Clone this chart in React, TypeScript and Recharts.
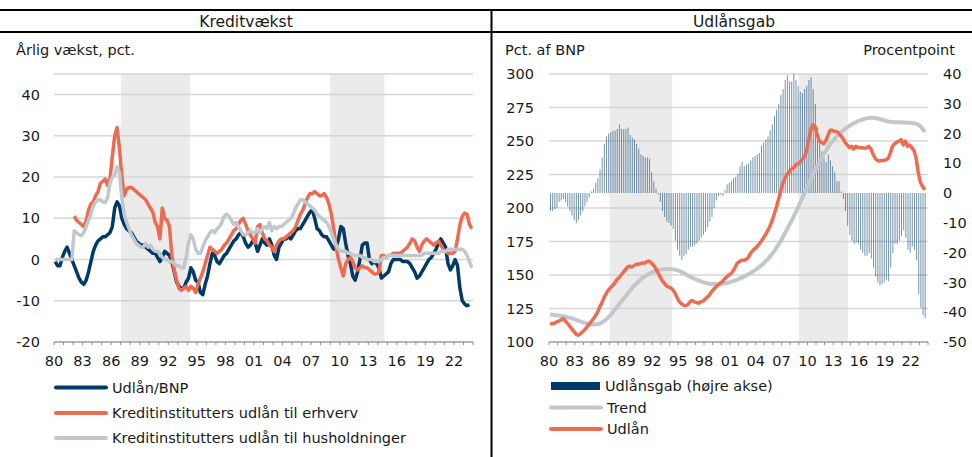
import React from 'react';
import {
  LineChart,
  ComposedChart,
  Line,
  Bar,
  XAxis,
  YAxis,
  CartesianGrid,
  ReferenceArea,
} from 'recharts';

const FONT = '"DejaVu Sans", Verdana, sans-serif';
const NAVY = '#003a66';
const ORANGE = '#ee6a50';
const GREY = '#c0c8cd';

// Kvartalsdata fra 1980K1 (én linje pr. år)
// Udlån/BNP, årlig vækst i pct. (til og med 2023K3)
const udlanBnp = [
  -0.5, -1.5, -1.5, 0.5,
  2, 3, 1.5, 0,
  -1.5, -3, -4.5, -5.5,
  -6, -5, -3, -0.5,
  2, 3.5, 4.5, 5,
  5.5, 5.5, 6, 6.5,
  8, 12.5, 14, 13,
  10, 8.5, 7.5, 7,
  6.5, 5.5, 4.5, 4,
  3.5, 3.5, 3, 2.5,
  2, 1.5, 1.5, 0.5,
  -0.5, 0.5, 2, 1.5,
  1, -0.5, -3, -5.5,
  -6.5, -7, -7, -5.5,
  -4.5, -2, -3, -5,
  -5.5, -8, -8.5, -6,
  -4, -1, 1.5, 1,
  -0.5, -1, 0, 1,
  1.5, 2.5, 3.5, 4.5,
  5, 6, 6.5, 5.5,
  4, 3, 3.5, 4.5,
  4, 2, 3.5, 5,
  4, 3.5, 5, 3.5,
  1, 0, 3, 4,
  5, 5, 5.5, 5,
  6, 7, 7.5, 7.5,
  8.5, 9.5, 10.5, 11.5,
  12, 10, 7.5, 7,
  6, 5.5, 5.5, 4.5,
  3.5, 2.5, 3, 5,
  8, 7.5, 4, 1,
  -1, -4, -5, -3,
  0, 3.5, 4, 4,
  0, -1, -0.5, -1,
  -2, -4.5, -4, -3.5,
  -3, -1, 0, 0,
  0, 0, -0.5, -0.5,
  -0.5, -1, -2, -3,
  -4.5, -4, -3, -2,
  -1, 0, 0.5, 1.5,
  2.5, 4, 5, 4,
  3, -1, -2.5, -1.5,
  0, -1.5, -7, -10,
  -10.8, -11.2, -11,
];

// Kreditinstitutters udlån til erhverv (fra 1982K1)
const udlanErhverv = [
  null, null, null, null,
  null, null, null, null,
  10.5, 9.5, 9, 8.5,
  8, 9.5, 12, 13.5,
  14, 15.5, 16.5, 18.5,
  19, 19.5, 18, 19.5,
  25, 30, 32, 27,
  20, 15.5, 17, 17.5,
  17.5, 17, 16.5, 16,
  15.5, 15, 14.5, 13.5,
  12.5, 11.5, 9, 8,
  5, 12.5, 10, 9.5,
  8, 1, -2.5, -5,
  -7, -7.5, -7, -6.5,
  -7.5, -6.5, -7, -8,
  -6, -4.5, -3, -1,
  1, 3, 2.5, 2,
  1.5, 2, 2.5, 3.5,
  4, 5, 6, 7,
  7.5, 8.5, 9.5, 10,
  8.5, 7, 6, 5,
  4, 8, 8.5, 6.5,
  5, 4.5, 3.5, 3,
  2, 3.5, 4.5, 5,
  5, 5.5, 6, 6.5,
  7, 8, 9.5, 11,
  12, 13.5, 15, 16,
  16, 16.5, 16, 15.5,
  15.5, 16, 15, 13.5,
  11, 7.5, 3, 0,
  -2, -4, -1, 0,
  0.5, -0.5, -2, -2.5,
  -2, -1.5, -2, -2,
  -2.5, -3, -3.5, -3.5,
  -3, 1, 1, 0.5,
  1, 1, 1.5, 1.5,
  1.5, 1.5, 2, 2.5,
  3, 4, 5, 4.5,
  3, 2, 3.5, 4.5,
  5, 4.5, 4, 3.5,
  4, 4.5, 3.5, 2.5,
  2, 1.5, 1.5, 1.5,
  2, 5, 8.5, 10.5,
  11.3, 11, 8.5, 7.5,
];

// Kreditinstitutters udlån til husholdninger
const udlanHush = [
  0, 0, 0, 0,
  0, 0, 0, 0,
  7, 6.5, 6, 5.8,
  6.5, 8, 9.5, 11,
  13, 14, 14.5, 14.5,
  14, 13.8, 15, 18.5,
  20, 20.5, 22.5, 21,
  15, 11, 9, 7.5,
  6, 5, 4, 3.5,
  3, 3, 4, 3,
  3.5, 2.5, 2, 2,
  1.5, 0.5, 0, 0,
  -0.5, -0.5, -1, -1.5,
  -1.5, -2, -2, 0.5,
  4, 6, 5, 2.5,
  1.5, 1.5, 3, 4.5,
  5.5, 6.5, 7, 6.5,
  7.5, 8, 9, 10.5,
  11, 10.5, 9.5, 8.5,
  9, 8, 7, 6,
  6, 6.5, 7, 6.5,
  6.5, 7.5, 6.5, 7.5,
  8, 7.5, 9, 7,
  8, 7.5, 8, 8,
  8.5, 9, 9.5, 10,
  11, 12.5, 13.5, 14.5,
  14.5, 14, 13.5, 13,
  12.5, 12, 11, 10.5,
  10, 9.5, 9, 8,
  6.5, 5, 3.5, 2.5,
  2, 2, 2, 1.5,
  1.5, 1, 1, 1,
  1, 0.5, 0.5, 0,
  0, 0, -0.5, -0.5,
  -0.5, 0, 0.5, 0.5,
  1, 1, 1, 1,
  1, 1, 1, 1,
  1, 1, 1, 1,
  1, 1, 1, 1.5,
  1.5, 1.5, 1.5, 1.5,
  1.5, 1.5, 2, 2,
  2, 2.5, 2.5, 2.5,
  2.5, 2.5, 2.5, 2.5,
  2, 1, -0.5, -2,
];

// Udlånsgab, procentpoint (højre akse)
const udlansgab = [
  -6, -6, -5.5, -5,
  -3, -2.5, -2, -3,
  -4.5, -6, -7.5, -9,
  -10, -9, -7.5, -6,
  -4.5, -3, -1.5, 0.5,
  1.5, 3.5, 5, 8,
  12, 16.5, 19, 20,
  20.5, 21, 21, 21.5,
  23, 21.5, 21.5, 21.5,
  22, 19.5, 18.5, 18,
  16.5, 15, 13, 12.5,
  12, 12, 11.5, 7,
  4, 1.5, -0.5, -3,
  -6, -8, -9.5, -10,
  -11, -12, -16, -19,
  -21, -22.5, -21, -20.5,
  -19, -18, -18, -17.5,
  -17, -16, -15, -14,
  -13, -11.5, -9.5, -8,
  -5, -2.5, -1, -0.5,
  -1, 1, 3, 3.5,
  4, 5, 5.5, 6.5,
  9, 10.5, 9, 9.5,
  10, 11, 12, 12.5,
  13, 13.5, 16, 17,
  18, 19, 21, 23,
  26, 28, 30, 33,
  35, 38, 39.5, 37.5,
  37.5, 40, 38, 36,
  34, 33.5, 35, 36,
  38, 39, 35, 30,
  22, 17, 14, 12,
  10.5, 13, 11, 9,
  7, 4, 4, 0.5,
  -2, -6, -11, -14,
  -16, -17, -16.5, -17,
  -19, -20, -21, -21,
  -20, -22, -25, -28,
  -30, -31, -30.5, -30,
  -29, -29.5, -25, -20,
  -17, -17, -16, -14.5,
  -12.5, -15, -19, -20,
  -18, -19, -22.5, -34,
  -38.5, -41, -42,
];

// Trend, pct. af BNP
const trend = [
  120.5, 120.3, 120.1, 120,
  119.8, 119.5, 119.2, 119,
  118.6, 118.2, 117.7, 117.2,
  116.6, 116, 115.4, 114.8,
  114.3, 113.8, 113.4, 113.1,
  113, 113, 113.3, 113.8,
  114.5, 115.5, 116.8, 118.3,
  120, 122, 124, 126,
  128, 130, 132, 134,
  136, 138, 140, 142,
  143.5, 145, 146.5, 148,
  149, 150, 151, 151.8,
  152.5, 153, 153.5, 154,
  154.2, 154.4, 154.5, 154.5,
  154.4, 154.2, 154, 153.6,
  153, 152.3, 151.5, 150.6,
  149.7, 148.8, 148, 147.2,
  146.5, 145.8, 145.2, 144.7,
  144.2, 143.8, 143.5, 143.3,
  143.2, 143.1, 143.1, 143.2,
  143.4, 143.7, 144, 144.4,
  144.9, 145.4, 146, 146.6,
  147.3, 148, 148.8, 149.6,
  150.5, 151.4, 152.4, 153.4,
  154.5, 155.7, 157, 158.4,
  160, 161.7, 163.5, 165.5,
  167.5, 170, 172.5, 175,
  178, 181, 184, 187,
  190, 193, 196.5, 200,
  203.5, 207, 210.5, 214,
  217.5, 221, 224.5, 228,
  231, 234, 237, 240,
  242.5, 245, 247.5, 249.5,
  251.5, 253.3, 255, 256.5,
  257.8, 259, 260.2, 261.3,
  262.3, 263.2, 264, 264.8,
  265.4, 266, 266.5, 266.9,
  267.2, 267.3, 267.3, 267.1,
  266.8, 266.4, 266, 265.5,
  265, 264.6, 264.3, 264.1,
  264, 264, 263.9, 263.9,
  263.8, 263.8, 263.7, 263.6,
  263.4, 263.2, 262.8, 262.2,
  261, 259, 256.5,
];

// Udlån, pct. af BNP
const udlan = [
  114, 113.5, 114, 115,
  115.5, 116.5, 117.5, 116,
  114, 112, 110, 108,
  106, 105, 106, 107.5,
  109, 111, 113, 115,
  117, 119.5, 122, 126,
  129, 133, 136, 138.5,
  140.5, 142, 144, 146.5,
  148, 150, 152, 154,
  156, 156.5, 156, 157,
  158, 158, 158.5, 159,
  159, 160, 160.5, 159,
  157.5, 155, 152, 149,
  146, 144, 142, 141,
  140.5, 139, 136.5, 133,
  130, 128.5, 127.5, 127,
  128, 130, 131, 130,
  129.5, 129, 130, 130.5,
  132, 133.5, 135, 137.5,
  139.5, 141, 142.5, 144,
  145, 147, 148.5, 150,
  151, 153, 156, 159,
  160, 161, 161, 161.5,
  163, 166, 168, 169.5,
  171, 173, 175, 177.5,
  180, 183, 186, 190,
  195, 200, 206, 212,
  218, 222, 225, 227,
  229, 230, 232, 233,
  234, 236, 238, 242,
  250, 258, 262, 261,
  255, 250, 249, 248,
  250, 254, 258, 258,
  257, 257, 256, 254,
  252, 249, 247, 245,
  246, 244, 246, 245,
  245, 245, 244.5, 245,
  246, 244, 240, 237,
  235.5, 235, 235.5, 235.5,
  236, 237, 241, 246,
  248, 249, 250, 251,
  247, 250, 246, 247,
  245, 243, 237, 226,
  219, 216, 213.5,
];

const yearTicks = [
  1980, 1981, 1982, 1983, 1984, 1985, 1986, 1987, 1988, 1989, 1990,
  1991, 1992, 1993, 1994, 1995, 1996, 1997, 1998, 1999, 2000, 2001,
  2002, 2003, 2004, 2005, 2006, 2007, 2008, 2009, 2010, 2011, 2012,
  2013, 2014, 2015, 2016, 2017, 2018, 2019, 2020, 2021, 2022, 2023, 2024,
];
const labelYears = [1980, 1983, 1986, 1989, 1992, 1995, 1998, 2001, 2004, 2007, 2010, 2013, 2016, 2019, 2022];
const leftTicks = [-20, -10, 0, 10, 20, 30, 40];
const bnpTicks = [100, 125, 150, 175, 200, 225, 250, 275, 300];
const gabTicks = [-50, -40, -30, -20, -10, 0, 10, 20, 30, 40];
// perioder med grå skygge
const shaded = [
  [1987.05, 1994.3],
  [2009.0, 2014.7],
];

const qx = (i: number) => 1980 + (i + 0.5) / 4;

const leftData = udlanHush.map((v, i) => ({
  x: qx(i),
  bnp: i < udlanBnp.length ? udlanBnp[i] : null,
  erhverv: udlanErhverv[i],
  hush: v,
}));

const rightData = udlan.map((v, i) => ({
  x: qx(i),
  udlan: v,
  trend: trend[i],
  gab: udlansgab[i],
}));

const yearLabel = (y: number) => (labelYears.includes(y) ? String(y % 100).padStart(2, '0') : '');

const tickStyle = { fontSize: 14.5, fill: '#1a1a1a', fontFamily: FONT };

function LegendLine({ y, color, label, x }: { y: number; color: string; label: string; x: number }) {
  return (
    <g>
      <line x1={x} x2={x + 50} y1={y} y2={y} stroke={color} strokeWidth={4} strokeLinecap="round" />
      <text x={x + 56} y={y + 5} fontSize={14.5} fontFamily={FONT} fill="#1a1a1a">
        {label}
      </text>
    </g>
  );
}

export default function App() {
  return (
    <div style={{ position: 'absolute', left: 0, top: 0, width: 972, height: 457, background: '#fff', overflow: 'hidden' }}>
      <div style={{ position: 'absolute', left: 0, top: 0 }}>
        <LineChart width={490} height={457} data={leftData} margin={{ top: 74, right: 17, bottom: 85, left: 0 }}>
          <CartesianGrid vertical={false} stroke="#d6d6d6" strokeWidth={1.5} />
          {shaded.map(([a, b]) => (
            <ReferenceArea key={a} x1={a} x2={b} fill="#d2d2d2" fillOpacity={0.45} stroke="none" />
          ))}
          <XAxis
            dataKey="x"
            type="number"
            domain={[1980, 2024]}
            ticks={yearTicks}
            interval={0}
            tickFormatter={yearLabel}
            height={30}
            tickSize={3}
            tickMargin={11}
            stroke="#8c8c8c"
            tick={tickStyle}
          />
          <YAxis
            domain={[-20, 45]}
            ticks={leftTicks}
            width={54}
            axisLine={false}
            tickLine={false}
            tickSize={0}
            tickMargin={14}
            tick={tickStyle}
          />
          <Line dataKey="bnp" stroke={NAVY} strokeWidth={3.5} dot={false} isAnimationActive={false} strokeLinejoin="round" />
          <Line dataKey="erhverv" stroke={ORANGE} strokeWidth={3.5} dot={false} isAnimationActive={false} strokeLinejoin="round" />
          <Line dataKey="hush" stroke={GREY} strokeWidth={3.5} dot={false} isAnimationActive={false} strokeLinejoin="round" />
        </LineChart>
      </div>
      <div style={{ position: 'absolute', left: 490, top: 0 }}>
        <ComposedChart width={482} height={457} data={rightData} margin={{ top: 74, right: 0, bottom: 85, left: 0 }}>
          <CartesianGrid vertical={false} stroke="#d6d6d6" strokeWidth={1.5} yAxisId="l" />
          {shaded.map(([a, b]) => (
            <ReferenceArea key={a} x1={a} x2={b} yAxisId="l" fill="#d2d2d2" fillOpacity={0.45} stroke="none" />
          ))}
          <XAxis
            dataKey="x"
            type="number"
            domain={[1980, 2024]}
            ticks={yearTicks}
            interval={0}
            tickFormatter={yearLabel}
            height={30}
            tickSize={3}
            tickMargin={11}
            stroke="#8c8c8c"
            tick={tickStyle}
          />
          <YAxis
            yAxisId="l"
            domain={[100, 300]}
            ticks={bnpTicks}
            width={59}
            axisLine={false}
            tickLine={false}
            tickSize={0}
            tickMargin={15}
            tick={tickStyle}
          />
          <YAxis
            yAxisId="r"
            orientation="right"
            domain={[-50, 40]}
            ticks={gabTicks}
            width={44}
            axisLine={false}
            tickLine={false}
            tickSize={0}
            tickMargin={15}
            tick={tickStyle}
          />
          <Bar dataKey="gab" yAxisId="r" fill={NAVY} fillOpacity={0.55} barSize={1} isAnimationActive={false} />
          <Line dataKey="trend" yAxisId="l" stroke={GREY} strokeWidth={4} dot={false} isAnimationActive={false} />
          <Line dataKey="udlan" yAxisId="l" stroke={ORANGE} strokeWidth={3.5} dot={false} isAnimationActive={false} strokeLinejoin="round" />
        </ComposedChart>
      </div>

      <svg width={972} height={457} style={{ position: 'absolute', left: 0, top: 0, pointerEvents: 'none' }}>
        <rect x={0} y={9} width={972} height={2} fill="#000" />
        <rect x={0} y={31} width={972} height={2} fill="#000" />
        <rect x={490.5} y={9} width={2} height={448} fill="#000" />
        <text x={246} y={27} textAnchor="middle" fontSize={15.5} fontFamily={FONT} fill="#1a1a1a">Kreditvækst</text>
        <text x={734} y={27} textAnchor="middle" fontSize={15.5} fontFamily={FONT} fill="#1a1a1a">Udlånsgab</text>
        <text x={16} y={55} fontSize={14.5} fontFamily={FONT} fill="#1a1a1a">Årlig vækst, pct.</text>
        <text x={505} y={55} fontSize={14.5} fontFamily={FONT} fill="#1a1a1a">Pct. af BNP</text>
        <text x={955} y={55} textAnchor="end" fontSize={14.5} fontFamily={FONT} fill="#1a1a1a">Procentpoint</text>

        <LegendLine x={56} y={387.5} color={NAVY} label="Udlån/BNP" />
        <LegendLine x={56} y={413} color={ORANGE} label="Kreditinstitutters udlån til erhverv" />
        <LegendLine x={56} y={438} color={GREY} label="Kreditinstitutters udlån til husholdninger" />

        <rect x={551} y={382} width={49} height={8} fill={NAVY} />
        <text x={605} y={391} fontSize={14.5} fontFamily={FONT} fill="#1a1a1a">Udlånsgab (højre akse)</text>
        <LegendLine x={551} y={407.5} color={GREY} label="Trend" />
        <LegendLine x={551} y={429} color={ORANGE} label="Udlån" />
      </svg>
    </div>
  );
}
